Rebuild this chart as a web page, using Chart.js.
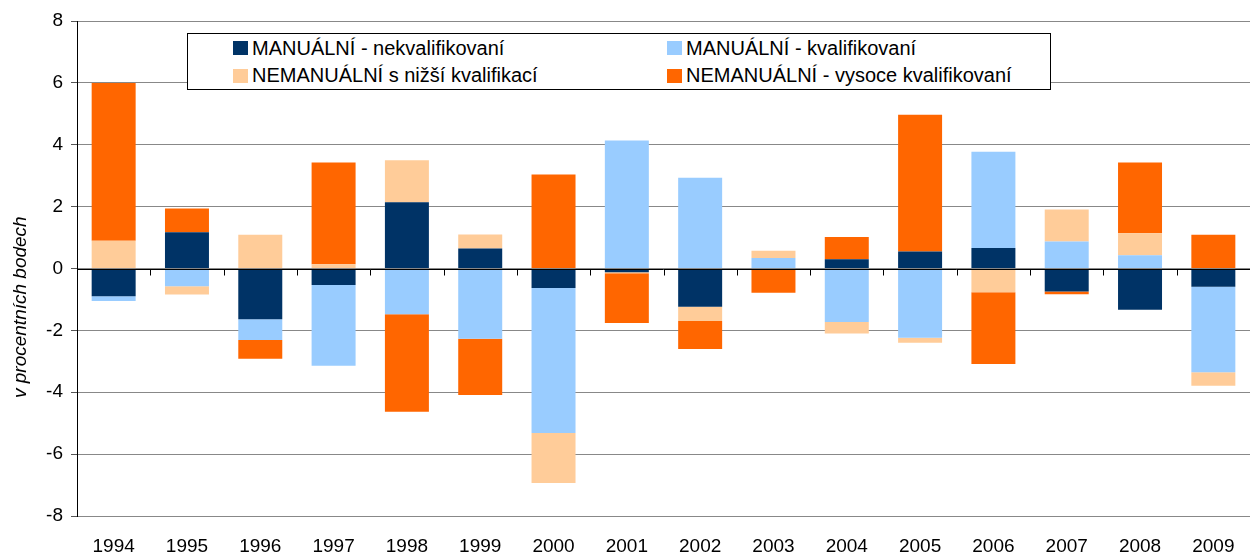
<!DOCTYPE html>
<html lang="cs">
<head>
    <meta charset="UTF-8">
    <title>Změny struktury zaměstnanosti</title>
    <style>
        body { margin: 0; background: #fff; font-family: "Liberation Sans", Arial, sans-serif; }
        #wrap { position: relative; width: 1250px; height: 553px; }
        #legend {
            position: absolute; left: 187px; top: 33px; width: 862px; height: 55px;
            border: 1px solid #000; background: #fff;
            display: grid; grid-template-columns: 436px 426px; grid-template-rows: 28px 27px;
            font-size: 20px; color: #000;
        }
        .item { display: flex; align-items: center; padding-left: 45px; white-space: nowrap; }
        .item span.sw { display: inline-block; width: 15px; height: 14px; margin-right: 4px; }
        .item:nth-child(even) { padding-left: 43px; }
    </style>
</head>
<body>

<div id="wrap">
    <canvas id="chart" width="1250" height="553"></canvas>
    <div id="legend"></div>
</div>

<script src="https://cdn.jsdelivr.net/npm/chart.js@4.4.0/dist/chart.umd.min.js"></script>
<script>
    // roky
    const years = ['1994', '1995', '1996', '1997', '1998', '1999', '2000', '2001',
                   '2002', '2003', '2004', '2005', '2006', '2007', '2008', '2009'];

    const seriesNames = ['MANUÁLNÍ - nekvalifikovaní', 'MANUÁLNÍ - kvalifikovaní',
                         'NEMANUÁLNÍ s nižší kvalifikací', 'NEMANUÁLNÍ - vysoce kvalifikovaní'];
    const seriesColors = ['#003366', '#99CCFF', '#FFCC99', '#FF6600'];

    // hodnoty v procentních bodech
    const manualUnskilled = [-0.9, 1.17, -1.64, -0.53, 2.14, 0.65, -0.63, -0.12,
                             -1.24, 0, 0.3, 0.55, 0.66, -0.74, -1.33, -0.59];
    const manualSkilled   = [-0.15, -0.57, -0.67, -2.61, -1.48, -2.27, -4.69, 4.14,
                             2.93, 0.34, -1.73, -2.24, 3.11, 0.87, 0.43, -2.76];
    const nonManualLow    = [0.9, -0.27, 1.09, 0.14, 1.36, 0.45, -1.61, -0.03,
                             -0.46, 0.23, -0.37, -0.16, -0.77, 1.04, 0.71, -0.44];
    const nonManualHigh   = [5.1, 0.77, -0.61, 3.29, -3.15, -1.82, 3.04, -1.61,
                             -0.9, -0.78, 0.72, 4.42, -2.32, -0.09, 2.29, 1.09];

    const yTicksMin = -8, yTicksMax = 8, yStep = 2;
    const yTitle = 'v procentních bodech';

    const allSeries = [manualUnskilled, manualSkilled, nonManualLow, nonManualHigh];

    // legenda (2 sloupce v rámečku)
    const legendEl = document.getElementById('legend');
    seriesNames.forEach((name, i) => {
        const div = document.createElement('div');
        div.className = 'item';
        div.innerHTML = '<span class="sw" style="background:' + seriesColors[i] + '"></span>' + name;
        legendEl.appendChild(div);
    });

    // nulová osa s dílky mezi kategoriemi, kreslí se přes sloupce
    const zeroLine = {
        id: 'zeroLine',
        afterDatasetsDraw(chart) {
            const c = chart.ctx, x = chart.scales.x, y = chart.scales.y;
            const y0 = Math.round(y.getPixelForValue(0)) + 0.5;
            c.save();
            c.strokeStyle = '#000';
            c.lineWidth = 1;
            c.beginPath();
            c.moveTo(chart.chartArea.left, y0);
            c.lineTo(chart.chartArea.right, y0);
            const half = (x.getPixelForTick(1) - x.getPixelForTick(0)) / 2;
            for (let i = 1; i < years.length; i++) {
                const px = Math.round(x.getPixelForTick(i) - half) + 0.5;
                c.moveTo(px, y0);
                c.lineTo(px, y0 + 6);
            }
            c.stroke();
            c.restore();
        }
    };

    // popisek osy y - v originále posunutý níž než střed osy
    const axisTitle = {
        id: 'axisTitle',
        afterDraw(chart) {
            const c = chart.ctx, y = chart.scales.y;
            c.save();
            c.translate(21, y.getPixelForValue(-1.25));
            c.rotate(-Math.PI / 2);
            c.font = 'italic 19px "Liberation Sans"';
            c.fillStyle = '#000';
            c.textAlign = 'center';
            c.textBaseline = 'middle';
            c.fillText(yTitle, 0, 0);
            c.restore();
        }
    };

    new Chart(document.getElementById('chart'), {
        type: 'bar',
        data: {
            labels: years,
            datasets: allSeries.map((d, i) => ({
                label: seriesNames[i],
                data: d,
                backgroundColor: seriesColors[i],
                borderWidth: 0,
                barPercentage: 0.6,
                categoryPercentage: 1
            }))
        },
        options: {
            responsive: false,
            animation: false,
            layout: { padding: { top: 21, right: 0, left: 0, bottom: 0 } },
            plugins: { legend: { display: false }, tooltip: { enabled: false } },
            scales: {
                x: {
                    stacked: true,
                    grid: { display: false },
                    border: { display: false },
                    ticks: {
                        color: '#000', padding: 11,
                        font: { family: 'Liberation Sans', size: 19 }
                    },
                    afterFit: s => { s.height = 37; }
                },
                y: {
                    stacked: true,
                    min: yTicksMin, max: yTicksMax,
                    ticks: {
                        stepSize: yStep, color: '#000', padding: 8,
                        font: { family: 'Liberation Sans', size: 19 }
                    },
                    grid: {
                        color: '#888', lineWidth: 1,
                        borderDash: [9, 6], tickLength: 6,
                        tickColor: '#555', tickBorderDash: [1, 0]
                    },
                    border: { display: true, color: '#000', width: 1 },
                    afterFit: s => { s.width = 77; }
                }
            }
        },
        plugins: [zeroLine, axisTitle]
    });
</script>

</body>
</html>
